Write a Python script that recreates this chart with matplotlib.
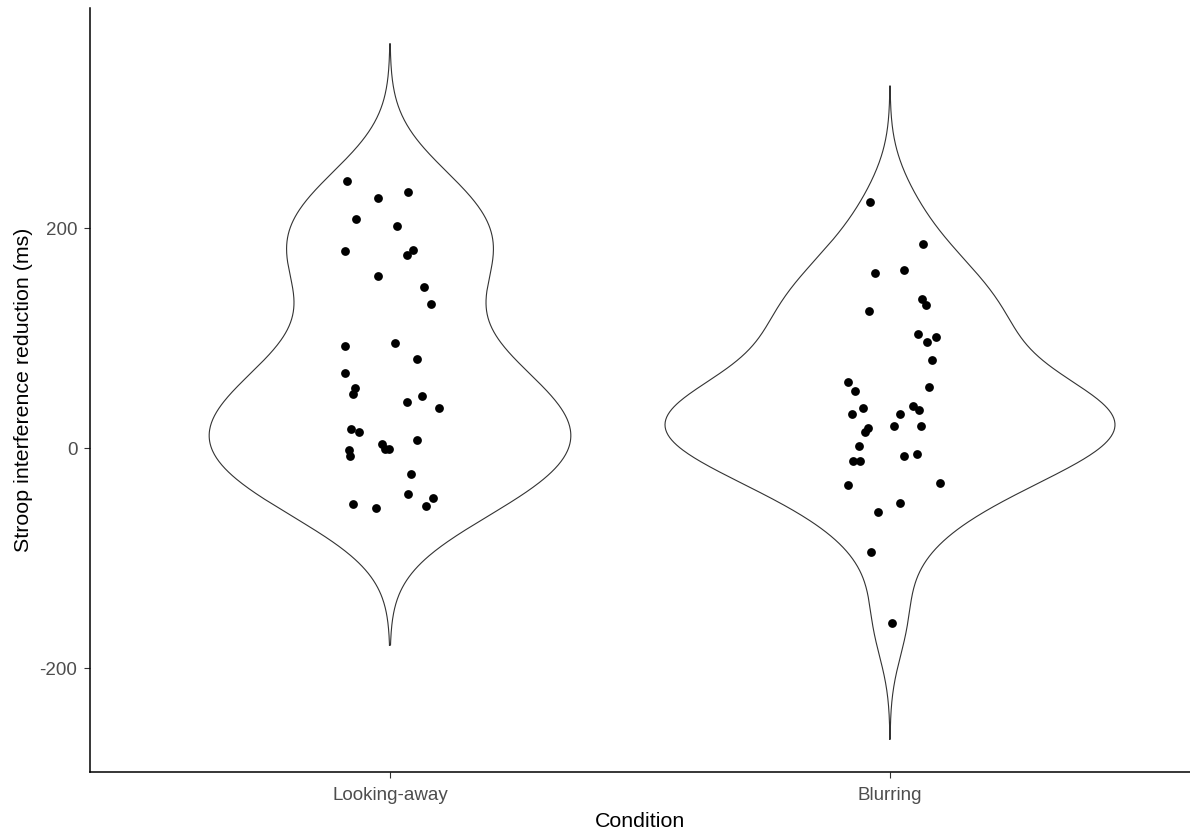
import numpy as np
import matplotlib.pyplot as plt

plt.rcParams['font.family'] = ['Liberation Sans', 'DejaVu Sans']
plt.rcParams['axes.unicode_minus'] = False

conditions = ["Looking-away", "Blurring"]

# interference reduction per participant (ms)
looking_away = [242.7, 227.3, 233.0, 207.9, 202.1, 178.8, 180.0, 175.7, 156.4, 146.6,
                131.2, 92.7, 95.2, 80.9, 68.5, 54.8, 48.8, 42.1, 47.5, 36.4,
                17.3, 14.3, -1.8, -7.0, 3.4, -0.9, -1.2, 7.3, -23.6, -41.5,
                -45.7, -52.7, -51.2, -54.3]
blurring = [223.4, 185.7, 159.4, 161.8, 135.7, 129.7, 124.3, 103.4, 96.1, 100.9,
            79.7, 55.7, 60.0, 51.5, 36.4, 31.2, 30.9, 38.5, 34.8, 19.7,
            19.7, 18.5, 14.3, 1.5, -12.1, -12.1, -7.0, -5.5, -33.4, -32.1,
            -50.0, -58.5, -94.5, -158.8]

# horizontal jitter of each point (category units)
looking_away_dx = [-0.087, -0.025, 0.035, -0.069, 0.014, -0.090, 0.045, 0.033, -0.025, 0.067,
                   0.081, -0.090, 0.011, 0.054, -0.090, -0.071, -0.075, 0.033, 0.063, 0.097,
                   -0.079, -0.062, -0.083, -0.080, -0.017, -0.010, -0.003, 0.054, 0.041, 0.035,
                   0.085, 0.071, -0.075, -0.029]
blurring_dx = [-0.040, 0.065, -0.031, 0.028, 0.064, 0.071, -0.043, 0.055, 0.074, 0.092,
               0.083, 0.077, -0.085, -0.070, -0.055, -0.077, 0.019, 0.045, 0.058, 0.007,
               0.061, -0.045, -0.051, -0.063, -0.074, -0.060, 0.028, 0.053, -0.085, 0.099,
               0.019, -0.024, -0.039, 0.003]

groups = [np.array(looking_away), np.array(blurring)]
jitter = [np.array(looking_away_dx), np.array(blurring_dx)]


def bw_nrd0(x):
    sd = np.std(x, ddof=1)
    iqr = np.subtract(*np.percentile(x, [75, 25]))
    lo = min(sd, iqr / 1.34)
    return 0.9 * lo * len(x) ** -0.2


def violin_density(x, n=512):
    bw = bw_nrd0(x)
    grid = np.linspace(x.min() - 3 * bw, x.max() + 3 * bw, n)
    z = (grid[:, None] - x[None, :]) / bw
    dens = np.exp(-0.5 * z ** 2).sum(axis=1) / (len(x) * bw * np.sqrt(2 * np.pi))
    return grid, dens


dens = [violin_density(g) for g in groups]
dmax = max(d.max() for _, d in dens)

fig = plt.figure(figsize=(11.9, 8.32), dpi=100)
ax = fig.add_axes([90 / 1190, 60 / 832, 1100 / 1190, 764 / 832])

for i, (grid, d) in enumerate(dens):
    pos = i + 1
    half = 0.45 * d / dmax
    xs = np.concatenate([pos - half, (pos + half)[::-1], [pos - half[0]]])
    ys = np.concatenate([grid, grid[::-1], [grid[0]]])
    ax.plot(xs, ys, color='#333333', lw=0.8)
    ax.scatter(pos + jitter[i], groups[i], s=40, color='black', zorder=3, linewidths=0)

ax.set_xlim(0.4, 2.6)
ax.set_ylim(-294.5, 400)
ax.set_xticks([1, 2])
ax.set_xticklabels(conditions)
ax.set_yticks([-200, 0, 200])
ax.tick_params(colors='#333333', labelcolor='#4D4D4D', labelsize=13.5, length=4, width=0.8)
ax.tick_params(axis='x', pad=7)
ax.tick_params(axis='y', pad=5)

for side in ['top', 'right']:
    ax.spines[side].set_visible(False)
for side in ['left', 'bottom']:
    ax.spines[side].set_linewidth(1.1)
    ax.spines[side].set_color('black')

ax.set_xlabel("Condition", fontsize=15.4, labelpad=5.5)
ax.set_ylabel("Stroop interference reduction (ms)", fontsize=15.4, labelpad=5)

fig.savefig("out.png", dpi=100)
